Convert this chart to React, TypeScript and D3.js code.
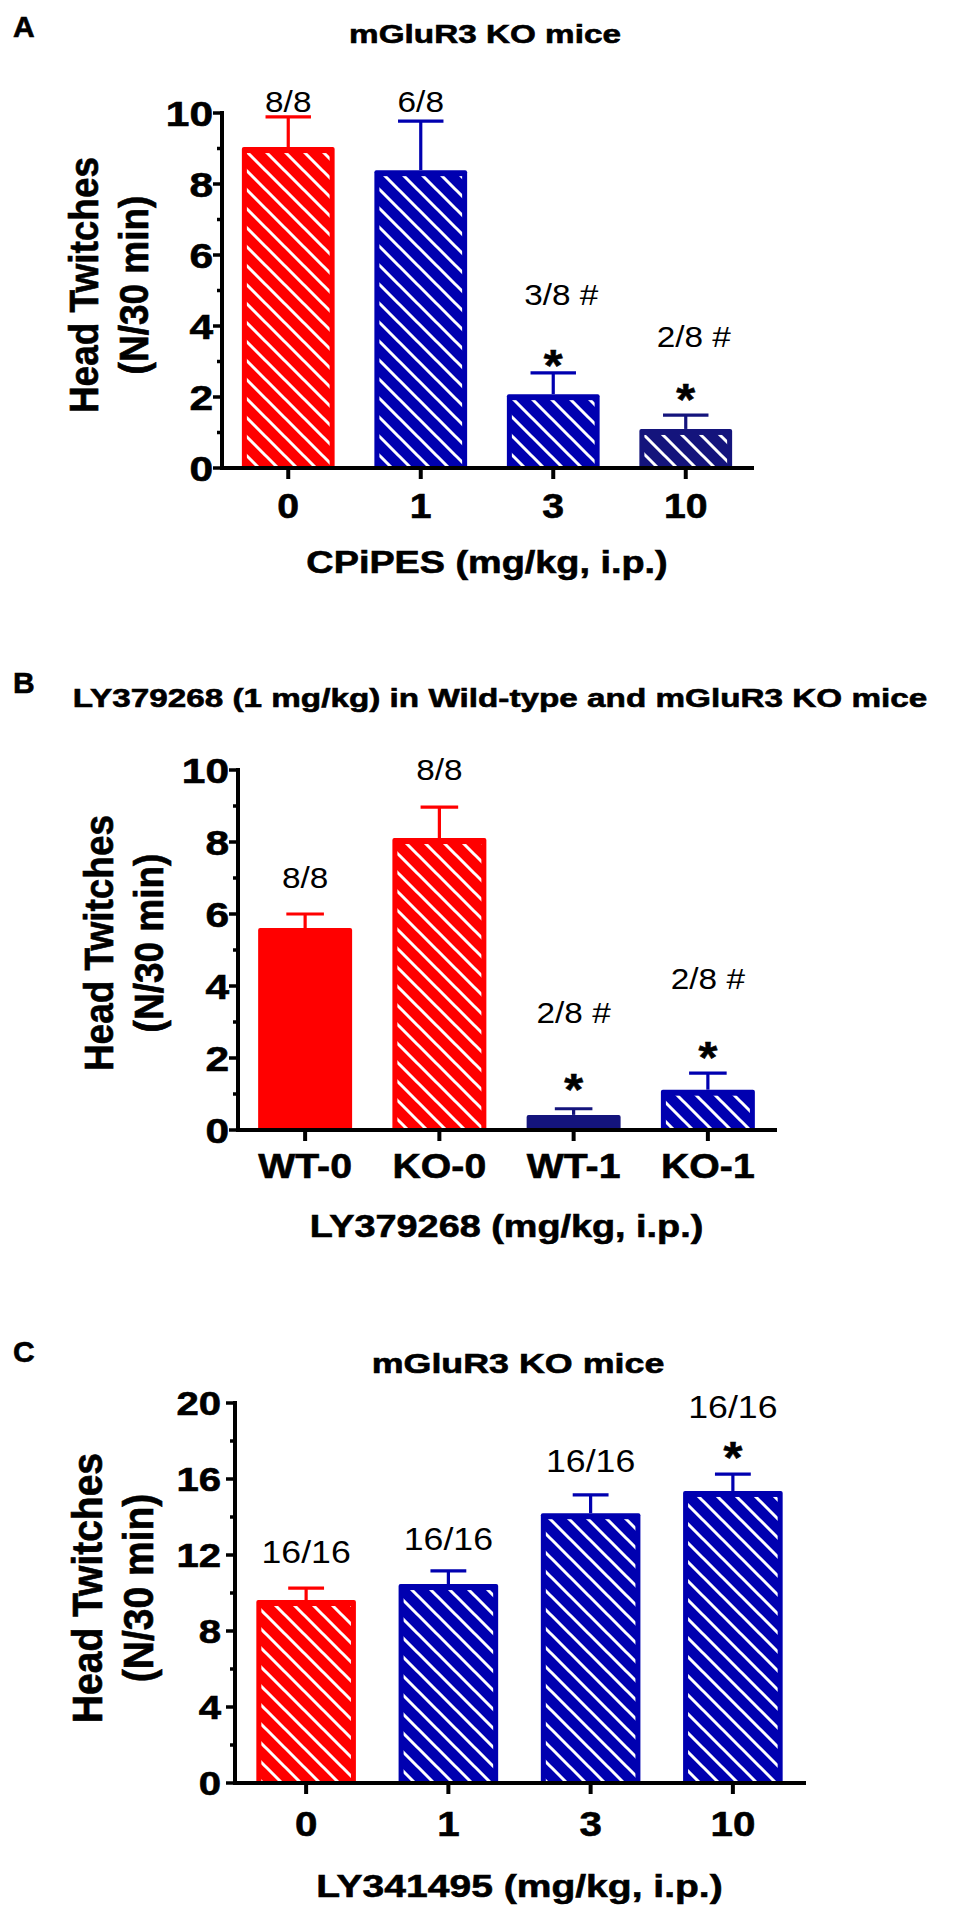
import React, { useEffect, useRef } from 'react';
import * as d3 from 'd3';

const svgWidth = 955;
const svgHeight = 1927;
const FONT = '"Liberation Sans", Arial, Helvetica, sans-serif';

// colours of the bars
const COLORS: Record<string, string> = {
    red: '#ff0000',
    blue: '#0000b0',
    navy: '#14147c',
};

// ---- panel A : CPiPES in mGluR3 KO mice
const dosesA = ['0', '1', '3', '10'];
const meansA = [9.04, 8.39, 2.08, 1.1];
const semsA = [0.85, 1.38, 0.6, 0.39];
const colorsA = ['red', 'blue', 'blue', 'navy'];
const hatchA = [true, true, true, true];
const countsA = ['8/8', '6/8', '3/8 #', '2/8 #'];
const countYA = [10.03, 10.03, 4.59, 3.41];
const starYA = [null, null, 3.18, 2.2];

// ---- panel B : LY379268 in WT and KO
const groupsB = ['WT-0', 'KO-0', 'WT-1', 'KO-1'];
const meansB = [5.61, 8.11, 0.42, 1.12];
const semsB = [0.39, 0.86, 0.17, 0.46];
const colorsB = ['red', 'red', 'navy', 'blue'];
const hatchB = [false, true, false, true];
const countsB = ['8/8', '8/8', '2/8 #', '2/8 #'];
const countYB = [6.72, 9.72, 2.96, 3.93];
const starYB = [null, null, 1.4, 2.3];

// ---- panel C : LY341495 in mGluR3 KO mice
const dosesC = ['0', '1', '3', '10'];
const meansC = [9.63, 10.47, 14.2, 15.37];
const semsC = [0.63, 0.69, 0.96, 0.89];
const colorsC = ['red', 'blue', 'blue', 'blue'];
const hatchC = [true, true, true, true];
const countsC = ['16/16', '16/16', '16/16', '16/16'];
const countYC = [11.58, 12.26, 16.37, 19.21];
const starYC = [null, null, null, 17.68];

const panels = [
    {
        letter: 'A', letterY: 37,
        title: 'mGluR3 KO mice', titleX: 485, titleY: 43, titleSize: 26,
        cats: dosesA, means: meansA, sems: semsA, colors: colorsA, hatch: hatchA,
        counts: countsA, countY: countYA, stars: starYA,
        x0: 222, x1: 752, yBottom: 468, yTop: 113, yMax: 10, major: 2, minor: 1,
        tickSize: 36, tickGap: 9, xLabelSize: 35, xLabelDy: 50,
        xTitle: 'CPiPES (mg/kg, i.p.)', xTitleSize: 31, xTitleDy: 105,
        yTitleX: 98, yTitleY: 285, yTitleSize: 37, yTitleSx: 1.12, yTitleGap: 45,
        capRatio: 0.49, countSize: 29, countDx: 8,
    },
    {
        letter: 'B', letterY: 693,
        title: 'LY379268 (1 mg/kg) in Wild-type and mGluR3 KO mice', titleX: 500, titleY: 707, titleSize: 26,
        cats: groupsB, means: meansB, sems: semsB, colors: colorsB, hatch: hatchB,
        counts: countsB, countY: countYB, stars: starYB,
        x0: 238, x1: 775, yBottom: 1130, yTop: 770, yMax: 10, major: 2, minor: 1,
        tickSize: 36, tickGap: 9, xLabelSize: 35, xLabelDy: 48,
        xTitle: 'LY379268 (mg/kg, i.p.)', xTitleSize: 31, xTitleDy: 107,
        yTitleX: 113, yTitleY: 943, yTitleSize: 37, yTitleSx: 1.12, yTitleGap: 45,
        capRatio: 0.4, countSize: 29, countDx: 0,
    },
    {
        letter: 'C', letterY: 1362,
        title: 'mGluR3 KO mice', titleX: 518, titleY: 1373, titleSize: 28,
        cats: dosesC, means: meansC, sems: semsC, colors: colorsC, hatch: hatchC,
        counts: countsC, countY: countYC, stars: starYC,
        x0: 235, x1: 804, yBottom: 1783, yTop: 1403, yMax: 20, major: 4, minor: 2,
        tickSize: 34, tickGap: 14, xLabelSize: 36, xLabelDy: 53,
        xTitle: 'LY341495 (mg/kg, i.p.)', xTitleSize: 32, xTitleDy: 114,
        yTitleX: 102, yTitleY: 1588, yTitleSize: 39, yTitleSx: 1.07, yTitleGap: 48,
        capRatio: 0.36, countSize: 31, countDx: 0,
    },
];

const addText = (g: any, x: number, y: number, txt: string, size: number, weight: string, sx: number, anchor = 'middle') => {
    const t = g.append('text')
        .attr('transform', `translate(${x},${y}) scale(${sx},1)`)
        .attr('text-anchor', anchor)
        .attr('font-family', FONT)
        .attr('font-size', size)
        .attr('font-weight', weight)
        .attr('fill', '#000')
        .text(txt);
    // the source uses a heavier bold face, thicken it a little
    if (weight === 'bold') t.attr('stroke', '#000').attr('stroke-width', 0.6);
    return t;
};

const drawPanel = (svg: any, p: any) => {
    const g = svg.append('g').attr('class', 'panel');

    const x = d3.scaleBand().domain(p.cats).range([p.x0, p.x1]).paddingInner(0.3).paddingOuter(0.15);
    const y = d3.scaleLinear().domain([0, p.yMax]).range([p.yBottom, p.yTop]);
    const bw = x.bandwidth();

    const rows = p.cats.map((c: string, i: number) => ({
        cat: c, mean: p.means[i], sem: p.sems[i], color: p.colors[i], hatch: p.hatch[i],
        count: p.counts[i], countY: p.countY[i], star: p.stars[i],
    }));

    // error bars (drawn first, bar covers the lower end)
    const err = g.selectAll('.err').data(rows).enter().append('g').attr('class', 'err')
        .attr('stroke', (d: any) => COLORS[d.color]).attr('stroke-width', 3.2);
    err.append('line')
        .attr('x1', (d: any) => x(d.cat)! + bw / 2).attr('x2', (d: any) => x(d.cat)! + bw / 2)
        .attr('y1', (d: any) => y(d.mean)).attr('y2', (d: any) => y(d.mean + d.sem));
    err.append('line')
        .attr('x1', (d: any) => x(d.cat)! + bw / 2 - bw * p.capRatio / 2)
        .attr('x2', (d: any) => x(d.cat)! + bw / 2 + bw * p.capRatio / 2)
        .attr('y1', (d: any) => y(d.mean + d.sem)).attr('y2', (d: any) => y(d.mean + d.sem));

    // bars
    g.selectAll('.bar').data(rows).enter().append('rect').attr('class', 'bar')
        .attr('x', (d: any) => x(d.cat)).attr('y', (d: any) => y(d.mean))
        .attr('width', bw).attr('height', (d: any) => y(0) - y(d.mean))
        .attr('rx', 2)
        .attr('fill', (d: any) => COLORS[d.color]);
    g.selectAll('.hatch').data(rows.filter((d: any) => d.hatch)).enter().append('rect').attr('class', 'hatch')
        .attr('x', (d: any) => x(d.cat)! + 5).attr('y', (d: any) => y(d.mean) + 6)
        .attr('width', bw - 10).attr('height', (d: any) => Math.max(0, y(0) - y(d.mean) - 6))
        .attr('fill', (d: any) => `url(#hatch-${d.color})`);

    // axes
    const axis = g.append('g').attr('stroke', '#000').attr('stroke-linecap', 'square');
    axis.append('line').attr('x1', p.x0).attr('x2', p.x0).attr('y1', y(p.yMax)).attr('y2', y(0)).attr('stroke-width', 4);
    axis.append('line').attr('x1', p.x0).attr('x2', p.x1).attr('y1', y(0)).attr('y2', y(0)).attr('stroke-width', 4);

    const yTicks = d3.range(0, p.yMax + 0.001, p.minor);
    axis.selectAll('.ytick').data(yTicks).enter().append('line').attr('class', 'ytick')
        .attr('x1', (d: number) => p.x0 - (d % p.major === 0 ? 9 : 5)).attr('x2', p.x0)
        .attr('y1', (d: number) => y(d)).attr('y2', (d: number) => y(d))
        .attr('stroke-width', 3.5).attr('stroke-linecap', 'butt');
    axis.selectAll('.xtick').data(p.cats).enter().append('line').attr('class', 'xtick')
        .attr('x1', (d: string) => x(d)! + bw / 2).attr('x2', (d: string) => x(d)! + bw / 2)
        .attr('y1', y(0)).attr('y2', y(0) + 11)
        .attr('stroke-width', 4).attr('stroke-linecap', 'butt');

    yTicks.filter((d: number) => d % p.major === 0).forEach((d: number) => {
        addText(g, p.x0 - p.tickGap, y(d) + 0.36 * p.tickSize, String(d), p.tickSize, 'bold', 1.18, 'end');
    });
    p.cats.forEach((c: string) => {
        addText(g, x(c)! + bw / 2, y(0) + p.xLabelDy, c, p.xLabelSize, 'bold', 1.12);
    });

    // axis titles
    addText(g, (p.x0 + p.x1) / 2, y(0) + p.xTitleDy, p.xTitle, p.xTitleSize, 'bold', 1.22);
    const yt = g.append('g')
        .attr('transform', `translate(${p.yTitleX},${p.yTitleY}) scale(${p.yTitleSx},1) rotate(-90)`);
    ['Head Twitches', '(N/30 min)'].forEach((line, i) => {
        yt.append('text').attr('x', 0).attr('y', i * p.yTitleGap)
            .attr('font-family', FONT).attr('font-weight', 'bold').attr('font-size', p.yTitleSize)
            .attr('text-anchor', 'middle').attr('fill', '#000')
            .attr('stroke', '#000').attr('stroke-width', 0.6)
            .text(line);
    });

    // panel title and letter
    addText(g, p.titleX, p.titleY, p.title, p.titleSize, 'bold', 1.28);
    addText(g, 13, p.letterY, p.letter, 30, 'bold', 1.0, 'start');

    // n / N annotations and significance marks
    rows.forEach((d: any) => {
        const dx = d.count.includes('#') ? p.countDx : 0;
        addText(g, x(d.cat)! + bw / 2 + dx, y(d.countY), d.count, p.countSize, 'normal', 1.15);
        if (d.star !== null) {
            addText(g, x(d.cat)! + bw / 2, y(d.star) + 0.58 * 44, '*', 44, 'bold', 1.1);
        }
    });
};

export default function App() {
    const ref = useRef<SVGSVGElement>(null);

    useEffect(() => {
        const svg = d3.select(ref.current);
        svg.selectAll('*').remove();

        const s = 19;
        const defs = svg.append('defs');
        Object.keys(COLORS).forEach(name => {
            const pat = defs.append('pattern').attr('id', `hatch-${name}`)
                .attr('patternUnits', 'userSpaceOnUse').attr('width', s).attr('height', s);
            pat.append('rect').attr('width', s).attr('height', s).attr('fill', COLORS[name]);
            pat.append('path')
                .attr('d', `M0,0L${s},${s}M${-s / 4},${s * 3 / 4}L${s / 4},${s * 5 / 4}M${s * 3 / 4},${-s / 4}L${s * 5 / 4},${s / 4}`)
                .attr('stroke', '#fff').attr('stroke-width', 3);
        });

        svg.append('rect').attr('width', svgWidth).attr('height', svgHeight).attr('fill', '#fff');
        panels.forEach(p => drawPanel(svg, p));
    }, []);

    return (
        <svg ref={ref} width={svgWidth} height={svgHeight}
            style={{ position: 'absolute', left: 0, top: 0, background: '#fff' }} />
    );
}
